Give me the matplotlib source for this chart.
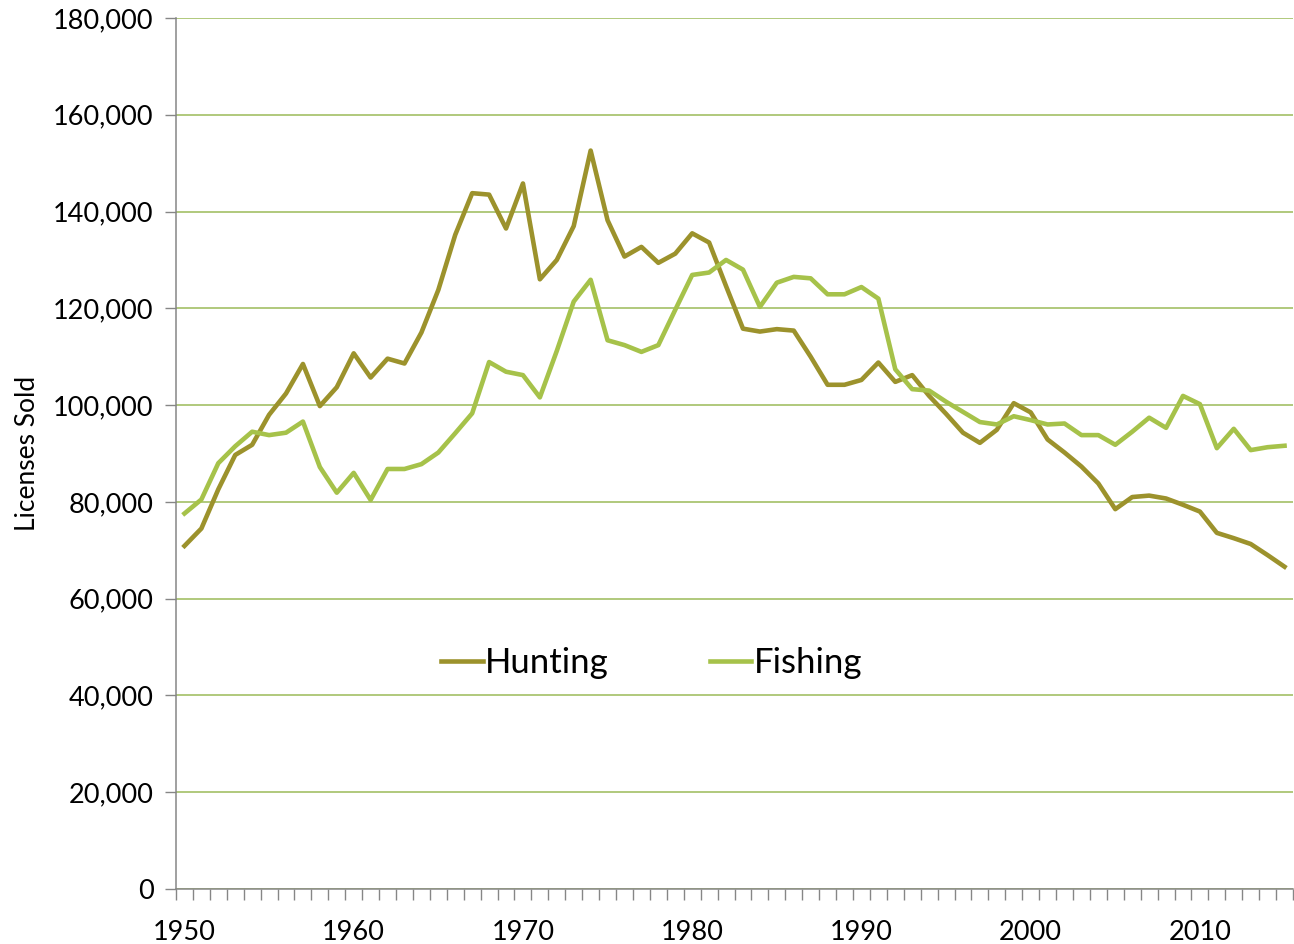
import numpy as np
import matplotlib
matplotlib.use("Agg")
import matplotlib.pyplot as plt
from matplotlib.ticker import FuncFormatter

plt.rcParams['font.family'] = ['Lato', 'DejaVu Sans']

# Licenses sold per year
years = list(range(1950, 2016))
hunting = [70.9, 74.5, 82.6, 89.7, 91.8, 98.0, 102.4, 108.5, 99.8, 103.7,
           110.7, 105.7, 109.6, 108.6, 115.0, 123.8, 135.2, 143.8, 143.5, 136.5,
           145.8, 126.0, 130.0, 137.0, 152.6, 138.2, 130.7, 132.7, 129.4, 131.3,
           135.5, 133.6, 124.6, 115.8, 115.2, 115.7, 115.4, 110.0, 104.2, 104.2,
           105.2, 108.8, 104.8, 106.2, 101.9, 98.2, 94.3, 92.2, 94.9, 100.4,
           98.5, 92.9, 90.2, 87.3, 83.8, 78.5, 81.0, 81.3, 80.7, 79.4,
           78.0, 73.6, 72.5, 71.3, 69.0, 66.6]
fishing = [77.6, 80.5, 88.0, 91.5, 94.5, 93.8, 94.3, 96.6, 87.2, 81.9,
           86.0, 80.4, 86.8, 86.8, 87.8, 90.2, 94.2, 98.3, 108.9, 106.9,
           106.2, 101.6, 111.2, 121.4, 125.9, 113.4, 112.4, 111.0, 112.4, 119.7,
           126.9, 127.4, 130.0, 128.0, 120.3, 125.3, 126.5, 126.2, 122.9, 122.9,
           124.4, 122.0, 107.4, 103.3, 103.0, 100.7, 98.6, 96.5, 96.0, 97.7,
           96.9, 96.0, 96.2, 93.8, 93.8, 91.8, 94.5, 97.4, 95.3, 101.9,
           100.2, 91.1, 95.1, 90.7, 91.3, 91.6]
hunting = np.array(hunting) * 1000
fishing = np.array(fishing) * 1000

hunt_color = '#9C922C'
fish_color = '#A6C24A'
grid_color = '#9BBB59'
axis_color = '#868686'

fig = plt.figure(figsize=(12.94, 9.44), dpi=100)
ax = fig.add_axes([176/1294, 55/944, 1117/1294, 871/944])

x = np.arange(len(years))
ax.plot(x, hunting, color=hunt_color, lw=3.3, label='Hunting')
ax.plot(x, fishing, color=fish_color, lw=3.3, label='Fishing')

ax.set_xlim(-0.5, len(years) - 0.5)
ax.set_ylim(0, 180000)
ax.set_yticks(np.arange(0, 180001, 20000))
ax.yaxis.set_major_formatter(FuncFormatter(lambda v, p: f'{int(v):,}'))
ax.yaxis.grid(True, color=grid_color, lw=1.1)
ax.set_axisbelow(True)

# category ticks between years, labels every decade
ax.set_xticks(np.arange(-0.5, len(years), 1), minor=True)
ax.set_xticks(x[::10])
ax.set_xticklabels([str(years[i]) for i in x[::10]])
ax.tick_params(axis='x', which='major', length=0, labelsize=19.5, pad=22)
ax.tick_params(axis='x', which='minor', length=8, color=axis_color, width=1)
ax.tick_params(axis='y', length=8, color=axis_color, width=1, labelsize=19.5, pad=8)

for side in ['top', 'right']:
    ax.spines[side].set_visible(False)
for side in ['left', 'bottom']:
    ax.spines[side].set_color(axis_color)
    ax.spines[side].set_linewidth(1.1)

ax.set_ylabel('Licenses Sold', fontsize=19)
ax.yaxis.set_label_coords(-136/1117, 0.5)

leg = ax.legend(loc='center', bbox_to_anchor=(0.426, 0.259), ncol=2, frameon=False,
                fontsize=25, handlelength=1.2, handletextpad=0.08, columnspacing=2.9)

fig.savefig('out.png', dpi=100)
